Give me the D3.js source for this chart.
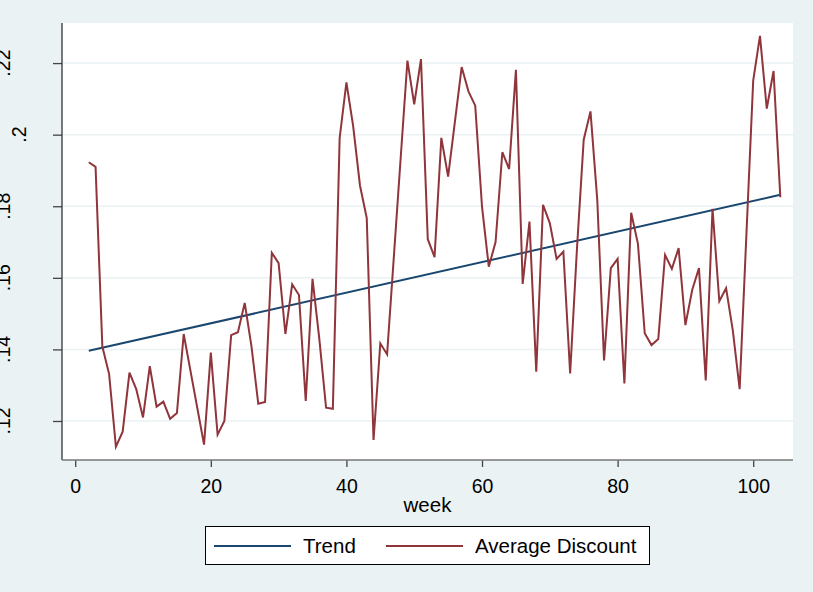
<!DOCTYPE html>
<html>
<head>
<meta charset="utf-8">
<script src="https://cdn.jsdelivr.net/npm/d3@7"></script>
<style>
  body { margin: 0; background: #eaf2f3; }
  text { font-family: "Liberation Sans", Arial, sans-serif; fill: #000; }
</style>
</head>
<body>
<svg id="chart" width="813" height="592"></svg>
<script>
// average discount per week
const weeks = [2,3,4,5,6,7,8,9,10,11,12,13,14,15,16,17,18,19,20,21,22,23,24,25,26,27,28,29,30,31,
  32,33,34,35,36,37,38,39,40,41,42,43,44,45,46,47,48,49,50,51,52,53,54,55,56,57,58,59,60,61,
  62,63,64,65,66,67,68,69,70,71,72,73,74,75,76,77,78,79,80,81,82,83,84,85,86,87,88,89,90,91,
  92,93,94,95,96,97,98,99,100,101,102,103,104];
const avgDiscount = [0.1923,0.1910,0.1408,0.1331,0.1128,0.1170,0.1335,0.1289,0.1210,0.1353,
  0.1240,0.1254,0.1206,0.1222,0.1443,0.1340,0.1237,0.1134,0.1391,0.1162,
  0.1200,0.1440,0.1448,0.1530,0.1408,0.1248,0.1253,0.1670,0.1641,0.1443,
  0.1582,0.1552,0.1256,0.1597,0.1430,0.1237,0.1234,0.1990,0.2146,0.2023,
  0.1858,0.1767,0.1147,0.1417,0.1386,0.1660,0.1934,0.2207,0.2085,0.2211,
  0.1708,0.1658,0.1991,0.1883,0.2036,0.2189,0.2121,0.2081,0.1799,0.1631,
  0.1700,0.1951,0.1904,0.2181,0.1583,0.1757,0.1338,0.1804,0.1753,0.1653,
  0.1673,0.1333,0.1680,0.1986,0.2065,0.1818,0.1369,0.1627,0.1653,0.1305,
  0.1782,0.1695,0.1445,0.1412,0.1429,0.1664,0.1625,0.1683,0.1468,0.1566,
  0.1627,0.1313,0.1793,0.1535,0.1571,0.1452,0.1289,0.1722,0.2151,0.2276,
  0.2073,0.2178,0.1825];

// fitted linear trend, end points
const trendWeeks = [2, 104];
const trendValues = [0.1396, 0.1832];

const xTicks = [0, 20, 40, 60, 80, 100];
const yTicks = [0.12, 0.14, 0.16, 0.18, 0.20, 0.22];
const yTickLabels = [".12", ".14", ".16", ".18", ".2", ".22"];

const legendLabels = ["Trend", "Average Discount"];
const lineColors = ["#1a476f", "#90353b"];

const svg = d3.select('#chart');
const W = 813, H = 592;
const plot = {left: 62, right: 793, top: 23, bottom: 460};

svg.append('rect').attr('width', W).attr('height', H).attr('fill', '#eaf2f3');
svg.append('rect')
   .attr('x', plot.left).attr('y', plot.top)
   .attr('width', plot.right - plot.left).attr('height', plot.bottom - plot.top)
   .attr('fill', '#fff');

const x = d3.scaleLinear().domain([-1.95, 105.87]).range([plot.left, plot.right]);
const y = d3.scaleLinear().domain([0.1091, 0.2312]).range([plot.bottom, plot.top]);

// grid
svg.append('g').selectAll('line')
   .data(yTicks)
   .enter().append('line')
   .attr('x1', plot.left).attr('x2', plot.right)
   .attr('y1', d => y(d)).attr('y2', d => y(d))
   .attr('stroke', '#eaf2f3').attr('stroke-width', 1.5);

// y axis
const yAxis = svg.append('g')
   .attr('transform', `translate(${plot.left},0)`)
   .call(d3.axisLeft(y).tickValues(yTicks).tickSize(9).tickFormat(''));
yAxis.select('.domain').remove();
yAxis.selectAll('line').attr('stroke', '#444').attr('stroke-width', 1.3);

svg.append('g').selectAll('text')
   .data(yTicks)
   .enter().append('text')
   .attr('transform', (d, i) => `translate(${yTickLabels[i].length < 3 ? 26 : 10},${y(d)}) rotate(-90)`)
   .attr('text-anchor', 'middle')
   .style('font-size', '19.5px')
   .text((d, i) => yTickLabels[i]);

// x axis
const xAxis = svg.append('g')
   .attr('transform', `translate(0,${plot.bottom})`)
   .call(d3.axisBottom(x).tickValues(xTicks).tickSize(7).tickPadding(12));
xAxis.select('.domain').remove();
xAxis.selectAll('line').attr('stroke', '#444').attr('stroke-width', 1.3);
xAxis.selectAll('text')
   .style('font-size', '19.5px')
   .style('font-family', '"Liberation Sans", Arial, sans-serif');

svg.append('line')
   .attr('x1', plot.left).attr('x2', plot.left)
   .attr('y1', plot.top).attr('y2', plot.bottom)
   .attr('stroke', '#333').attr('stroke-width', 1.3);
svg.append('line')
   .attr('x1', plot.left).attr('x2', plot.right)
   .attr('y1', plot.bottom).attr('y2', plot.bottom)
   .attr('stroke', '#777').attr('stroke-width', 1.3);

svg.append('text')
   .attr('x', (plot.left + plot.right) / 2).attr('y', 512)
   .attr('text-anchor', 'middle')
   .style('font-size', '20.5px')
   .text('week');

// lines
const line = d3.line().x(d => x(d[0])).y(d => y(d[1]));

svg.append('path')
   .datum(trendWeeks.map((w, i) => [w, trendValues[i]]))
   .attr('d', line)
   .attr('fill', 'none')
   .attr('stroke', lineColors[0])
   .attr('stroke-width', 2);

svg.append('path')
   .datum(weeks.map((w, i) => [w, avgDiscount[i]]))
   .attr('d', line)
   .attr('fill', 'none')
   .attr('stroke', lineColors[1])
   .attr('stroke-width', 2)
   .attr('stroke-linejoin', 'miter');

// legend
const legend = svg.append('g');
legend.append('rect')
   .attr('x', 205.5).attr('y', 526.5).attr('width', 444).attr('height', 38)
   .attr('fill', '#fff').attr('stroke', '#000').attr('stroke-width', 1);

const keyX = [214, 386];
const textX = [303, 475];
legendLabels.forEach((lab, i) => {
  legend.append('line')
     .attr('x1', keyX[i]).attr('x2', keyX[i] + 77)
     .attr('y1', 546).attr('y2', 546)
     .attr('stroke', lineColors[i]).attr('stroke-width', 2);
  legend.append('text')
     .attr('x', textX[i]).attr('y', 553)
     .style('font-size', '20.5px')
     .text(lab);
});
</script>
</body>
</html>
